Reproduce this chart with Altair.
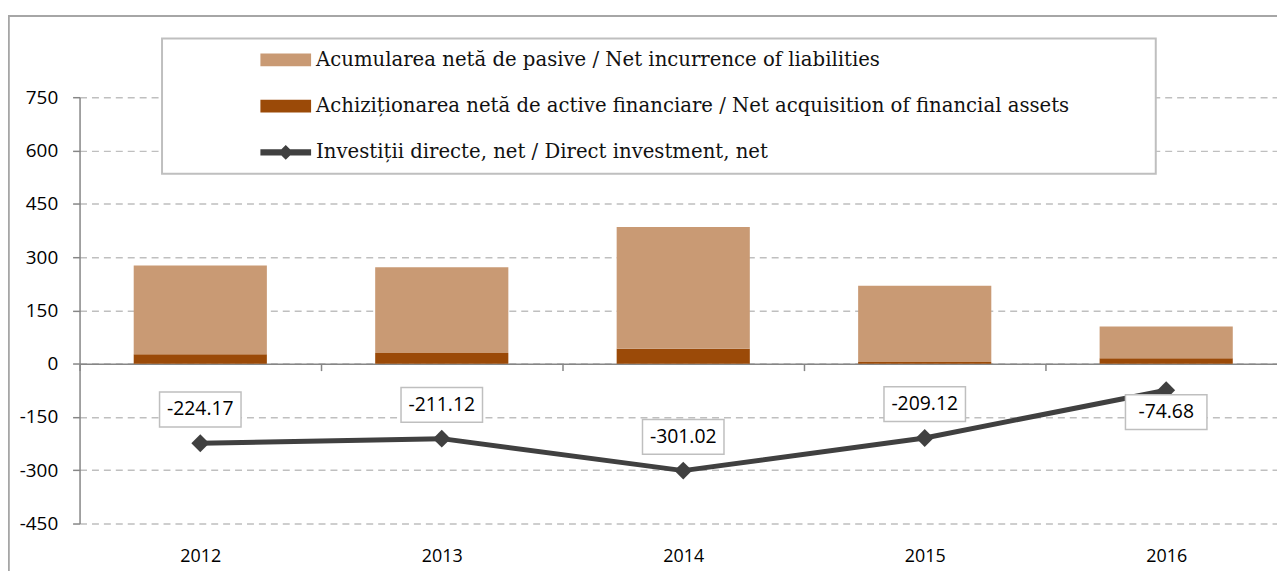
import altair as alt
import pandas as pd

# ---------------- data ----------------
years = ["2012", "2013", "2014", "2015", "2016"]
liabilities = [250.4, 241.1, 343.0, 214.1, 89.7]
assets = [26.2, 30.0, 42.0, 5.0, 15.0]
net = [-224.17, -211.12, -301.02, -209.12, -74.68]
net_labels = ["-224.17", "-211.12", "-301.02", "-209.12", "-74.68"]
label_above = [True, True, True, True, False]

S_LIAB = "Acumularea netă de pasive / Net incurrence of liabilities"
S_ASSET = "Achiziționarea netă de active financiare / Net acquisition of financial assets"
S_NET = "Investiții directe, net / Direct investment, net"
series = [S_LIAB, S_ASSET, S_NET]
colors = ["#C99A74", "#9B4A08", "#404040"]
y_ticks = [-450, -300, -150, 0, 150, 300, 450, 600, 750]

# ---------------- tables ----------------
bars_df = pd.DataFrame({
    "year": years * 2,
    "series": [S_ASSET] * 5 + [S_LIAB] * 5,
    "value": assets + liabilities,
    "order": [0] * 5 + [1] * 5,
})
line_df = pd.DataFrame({"year": years, "value": net, "label": net_labels, "above": label_above})
legend_df = pd.DataFrame({"series": series})
one_df = pd.DataFrame({"a": [0]})

W, H = 1205, 429
GREY = "#868686"

x_scale = alt.Scale(domain=years, range=[0, 1215], paddingInner=0, paddingOuter=0)
y_scale = alt.Scale(domain=[-450, 750], nice=False, zero=False)
fill_scale = alt.Scale(domain=series, range=colors)

RECT_PATH = "M-1,-0.25H1V0.25H-1Z"
LINE_PATH = "M-1,-0.12H-0.17L0,-0.29L0.17,-0.12H1V0.12H0.17L0,0.29L-0.17,0.12H-1Z"
shape_scale = alt.Scale(domain=series, range=[RECT_PATH, RECT_PATH, LINE_PATH])
BOX_PATH = "M-1,-0.427H1V0.427H-1Z"

x_axis = alt.Axis(title=None, orient="bottom", offset=-160.875, domainColor=GREY,
                  domainWidth=1.5, tickColor=GREY, tickWidth=1.5, tickSize=7,
                  tickBand="extent", labelPadding=178, labelFont="Open Sans",
                  labelFontSize=18, labelColor="#000000", labelAngle=0, grid=False)
y_axis = alt.Axis(title=None, values=y_ticks, grid=True, gridColor="#BFBFBF",
                  gridDash=[7, 5], gridWidth=1.5, domainColor=GREY, domainWidth=1.5,
                  tickColor=GREY, tickWidth=1.5, tickSize=7, labelPadding=15,
                  labelFont="Open Sans", labelFontSize=19, labelColor="#000000",
                  labelExpr="'' + datum.value")

X = alt.X("year:N", scale=x_scale, axis=x_axis)
Y = alt.Y("value:Q", scale=y_scale, axis=y_axis)

legend = alt.Legend(title=None, orient="none", legendX=182, legendY=-63,
                    direction="vertical", symbolSize=2601, symbolStrokeWidth=0,
                    symbolOpacity=1, labelFont="DejaVu Serif", labelFontSize=19.8,
                    labelColor="#111111", labelOffset=5, rowPadding=10.5, padding=0,
                    labelLimit=1200)

# decorations: outer frame and legend box
frame = alt.Chart(one_df).mark_rect(fill="white", fillOpacity=0, stroke="#A6A6A6",
                                    strokeWidth=2).encode(
    x=alt.value(-71.2), x2=alt.value(1400), y=alt.value(-81.7), y2=alt.value(700))
legend_box = alt.Chart(one_df).mark_rect(fill="white", stroke="#BFBFBF",
                                         strokeWidth=2).encode(
    x=alt.value(83), x2=alt.value(1083), y=alt.value(-59), y2=alt.value(77))

bars = alt.Chart(bars_df).mark_bar(width=134).encode(
    x=X,
    y=alt.Y("value:Q", scale=y_scale, axis=y_axis, stack="zero"),
    fill=alt.Fill("series:N", scale=fill_scale, legend=legend),
    order=alt.Order("order:Q"),
)

line = alt.Chart(line_df).mark_line(color="#404040", strokeWidth=5).encode(x=X, y=Y)
dots = alt.Chart(line_df).mark_point(shape="diamond", size=324, filled=True,
                                     fill="#404040", opacity=1).encode(x=X, y=Y)

def labels(flag, dy):
    base = alt.Chart(line_df).transform_filter(alt.datum.above == flag).encode(x=X, y=Y)
    box = base.mark_point(shape=BOX_PATH, size=6724, filled=True, fill="white",
                          stroke="#BFBFBF", strokeWidth=1.5, opacity=1, yOffset=dy)
    txt = base.mark_text(font="Open Sans", fontSize=19.5, color="#000000",
                         baseline="middle", yOffset=dy).encode(text="label:N")
    return box + txt

legend_layer = alt.Chart(legend_df).mark_point(size=0, filled=True, opacity=1).encode(
    fill=alt.Fill("series:N", scale=fill_scale, legend=legend),
    shape=alt.Shape("series:N", scale=shape_scale, legend=legend),
)

chart = alt.layer(
    frame, legend_box, bars, line, dots, labels(True, -34), labels(False, 22), legend_layer
).properties(
    width=W, height=H,
    autosize=alt.AutoSizeParams(type="none"),
    padding={"left": 72, "top": 88, "right": 0, "bottom": 46},
).configure_view(stroke=None)

chart.save("out.html", embed_options={"renderer": "svg", "actions": False})
